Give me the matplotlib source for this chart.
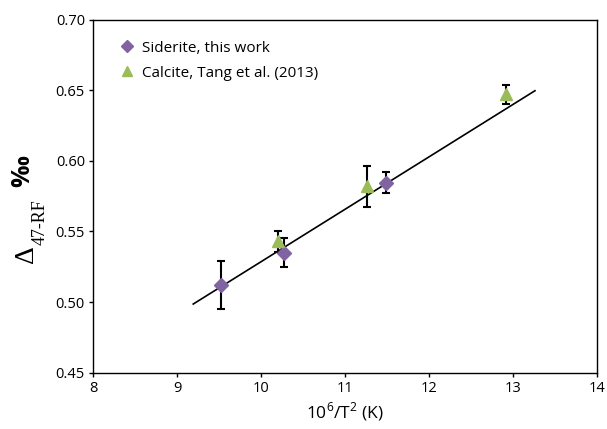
import matplotlib
matplotlib.use("Agg")
import matplotlib.pyplot as plt
from matplotlib.lines import Line2D

# Data
sid_x = [9.52, 10.275, 11.48]
sid_y = [0.512, 0.535, 0.5845]
sid_err = [0.017, 0.0105, 0.0075]

cal_x = [10.20, 11.26, 12.92]
cal_y = [0.543, 0.582, 0.647]
cal_err = [0.0075, 0.0145, 0.0065]

fit_x = [9.19, 13.26]
fit_y = [0.4986, 0.6496]

xticks = [8, 9, 10, 11, 12, 13, 14]
yticks = [0.45, 0.50, 0.55, 0.60, 0.65, 0.70]

purple = "#8064A2"
green = "#9BBB59"

plt.rcParams['font.family'] = ['Open Sans', 'DejaVu Sans']
plt.rcParams['mathtext.fontset'] = 'custom'
plt.rcParams['mathtext.rm'] = 'Open Sans'

fig = plt.figure(figsize=(6.07, 4.29), dpi=100)
ax = fig.add_axes([0.1537, 0.1312, 0.8300, 0.8233])

ax.plot(fit_x, fit_y, color="black", lw=1.2, zorder=1)

ax.errorbar(sid_x, sid_y, yerr=sid_err, fmt='none', ecolor='black',
            elinewidth=1.5, capsize=3, capthick=1.5, zorder=2)
ax.errorbar(cal_x, cal_y, yerr=cal_err, fmt='none', ecolor='black',
            elinewidth=1.5, capsize=3, capthick=1.5, zorder=2)
ax.plot(sid_x, sid_y, linestyle='none', marker='D', color=purple,
        markersize=7, zorder=3)
ax.plot(cal_x, cal_y, linestyle='none', marker='^', color=green,
        markersize=8.5, zorder=3)

ax.set_xlim(8, 14)
ax.set_ylim(0.45, 0.70)
ax.set_xticks(xticks)
ax.set_xticklabels([str(t) for t in xticks])
ax.set_yticks(yticks)
ax.set_yticklabels([f"{t:.2f}" for t in yticks])
ax.tick_params(direction='out', length=3, width=1, labelsize=10.5, pad=3)
for s in ax.spines.values():
    s.set_linewidth(1.0)

ax.set_xlabel(r'10$^{6}$/T$^{2}$ (K)', fontsize=12.5, labelpad=3)

handles = [Line2D([], [], linestyle='none', marker='D', color=purple, markersize=6),
           Line2D([], [], linestyle='none', marker='^', color=green, markersize=7)]
ax.legend(handles, ["Siderite, this work", "Calcite, Tang et al. (2013)"],
          loc='upper left', bbox_to_anchor=(0.017, 0.979), frameon=False,
          fontsize=11, handletextpad=0.2, handlelength=1.5, labelspacing=0.65)

# Y label
fig.text(26 / 607, 1 - 254 / 429, "Δ", rotation=90, fontsize=20,
         family=['Liberation Serif', 'DejaVu Serif'], ha='center', va='center')
fig.text(40 / 607, 1 - 222 / 429, "47-RF", rotation=90, fontsize=13,
         family=['Liberation Serif', 'DejaVu Serif'], ha='center', va='center')
fig.text(23 / 607, 1 - 171 / 429, "‰", rotation=90, fontsize=18,
         fontweight='bold', ha='center', va='center')

fig.savefig("out.png", dpi=100)
